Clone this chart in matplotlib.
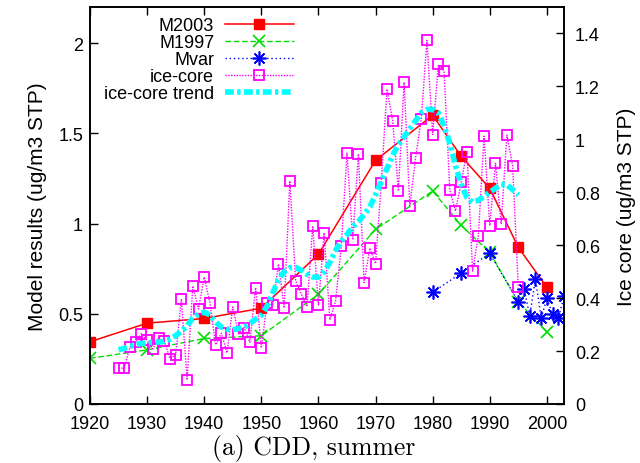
import numpy as np
import matplotlib
matplotlib.use('Agg')
import matplotlib.pyplot as plt

# model results (left axis)
m2003_yr = [1920, 1930, 1940, 1950, 1960, 1970, 1980, 1985, 1990, 1995, 2000]
m2003 = [0.345, 0.448, 0.474, 0.531, 0.83, 1.35, 1.60, 1.373, 1.195, 0.868, 0.647]

m1997_yr = [1920, 1930, 1940, 1950, 1960, 1970, 1980, 1985, 1990, 1995, 2000]
m1997 = [0.253, 0.30, 0.363, 0.378, 0.608, 0.968, 1.18, 0.99, 0.84, 0.566, 0.40]

mvar_yr = [1980, 1985, 1990, 1995, 1996, 1997, 1998, 1999, 2000, 2001, 2002, 2003]
mvar = [0.62, 0.725, 0.835, 0.566, 0.64, 0.488, 0.695, 0.476, 0.585, 0.498, 0.476, 0.596]

# ice core (right axis)
ice_yr = list(range(1925, 1996))
ice = [0.136, 0.135, 0.215, 0.233, 0.266, 0.24, 0.208, 0.25, 0.238, 0.171,
       0.186, 0.397, 0.091, 0.446, 0.359, 0.48, 0.382, 0.224, 0.267, 0.193,
       0.367, 0.265, 0.289, 0.233, 0.44, 0.212, 0.38, 0.374, 0.529, 0.363,
       0.843, 0.466, 0.416, 0.368, 0.673, 0.374, 0.647, 0.318, 0.388, 0.596,
       0.948, 0.62, 0.945, 0.459, 0.589, 0.53, 0.834, 1.19, 1.07, 0.805,
       1.216, 0.749, 0.929, 1.075, 1.374, 1.018, 1.283, 1.258, 0.809, 0.729,
       0.837, 0.954, 0.502, 0.636, 1.012, 0.674, 0.909, 0.68, 1.016, 0.901,
       0.441]

trend_yr = list(range(1925, 1996))
trend = [0.205, 0.21, 0.218, 0.224, 0.229, 0.231, 0.233, 0.234, 0.236, 0.245,
         0.258, 0.275, 0.295, 0.325, 0.34, 0.347, 0.336, 0.31, 0.29, 0.283,
         0.281, 0.285, 0.29, 0.305, 0.32, 0.335, 0.37, 0.42, 0.47, 0.50,
         0.515, 0.516, 0.505, 0.49, 0.48, 0.479, 0.50, 0.535, 0.58, 0.615,
         0.64, 0.67, 0.69, 0.715, 0.745, 0.79, 0.84, 0.89, 0.94, 0.98,
         1.01, 1.04, 1.07, 1.10, 1.113, 1.113, 1.10, 1.05, 0.985, 0.90,
         0.83, 0.78, 0.762, 0.77, 0.785, 0.80, 0.815, 0.83, 0.828, 0.81,
         0.79]

plt.rcParams['font.family'] = ['Liberation Sans', 'DejaVu Sans']
plt.rcParams['font.size'] = 13

fig = plt.figure(figsize=(6.4, 4.64), dpi=100)
ax = fig.add_axes([90/640, 1 - 405/464, 474/640, 397/464])
ax2 = ax.twinx()

l1, = ax.plot(m2003_yr, m2003, color='red', lw=1.1, marker='s', ms=7,
              label='M2003')
l2, = ax.plot(m1997_yr, m1997, color='#00dd00', lw=1.0, ls=(0, (4, 2)),
              marker='x', ms=8, mew=1.2, label='M1997')
l3, = ax.plot(mvar_yr, mvar, color='blue', lw=1.0, ls=(0, (1, 2)),
              marker=(8, 2, 0), ms=10, mew=1.2, label='Mvar')

l4, = ax2.plot(ice_yr, ice, color='magenta', lw=1.0, ls=(0, (1, 1)),
               marker='s', ms=7, mfc='none', mew=1.3, label='ice-core')
l5, = ax2.plot(trend_yr, trend, color='cyan', lw=4, ls=(0, (1.6, 0.6, 0.6, 0.6)),
               label='ice-core trend')

ax.set_xlim(1920, 2003)
ax.set_ylim(0, 2.2)
ax2.set_ylim(0, 1.5)
ax.set_xticks(range(1920, 2001, 10))
ax.set_yticks([0, 0.5, 1, 1.5, 2])
ax.set_yticklabels(['0', '0.5', '1', '1.5', '2'])
ax2.set_yticks([0, 0.2, 0.4, 0.6, 0.8, 1.0, 1.2, 1.4])
ax2.set_yticklabels(['0', '0.2', '0.4', '0.6', '0.8', '1', '1.2', '1.4'])

ax.tick_params(direction='in', length=6, width=1, top=True, pad=5)
ax.tick_params(axis='x', pad=8)
ax2.tick_params(direction='in', length=6, width=1, pad=8)
for a in (ax, ax2):
    for s in a.spines.values():
        s.set_linewidth(1.2)

ax.set_ylabel('Model results (ug/m3 STP)', fontsize=15, labelpad=8)
ax2.set_ylabel('Ice core (ug/m3 STP)', fontsize=15, labelpad=12)

fig.text(0.49, 0.02, '(a) CDD, summer', family='cmr10', fontsize=18.5,
         ha='center', va='baseline')

leg = ax2.legend(handles=[l1, l2, l3, l4, l5], loc='upper right',
                 bbox_to_anchor=(0.46, 1.01), frameon=False, markerfirst=False,
                 handlelength=3.8, handletextpad=0.6, labelspacing=0.0,
                 borderpad=0.3, fontsize=13)

fig.savefig('out.png', dpi=100)
